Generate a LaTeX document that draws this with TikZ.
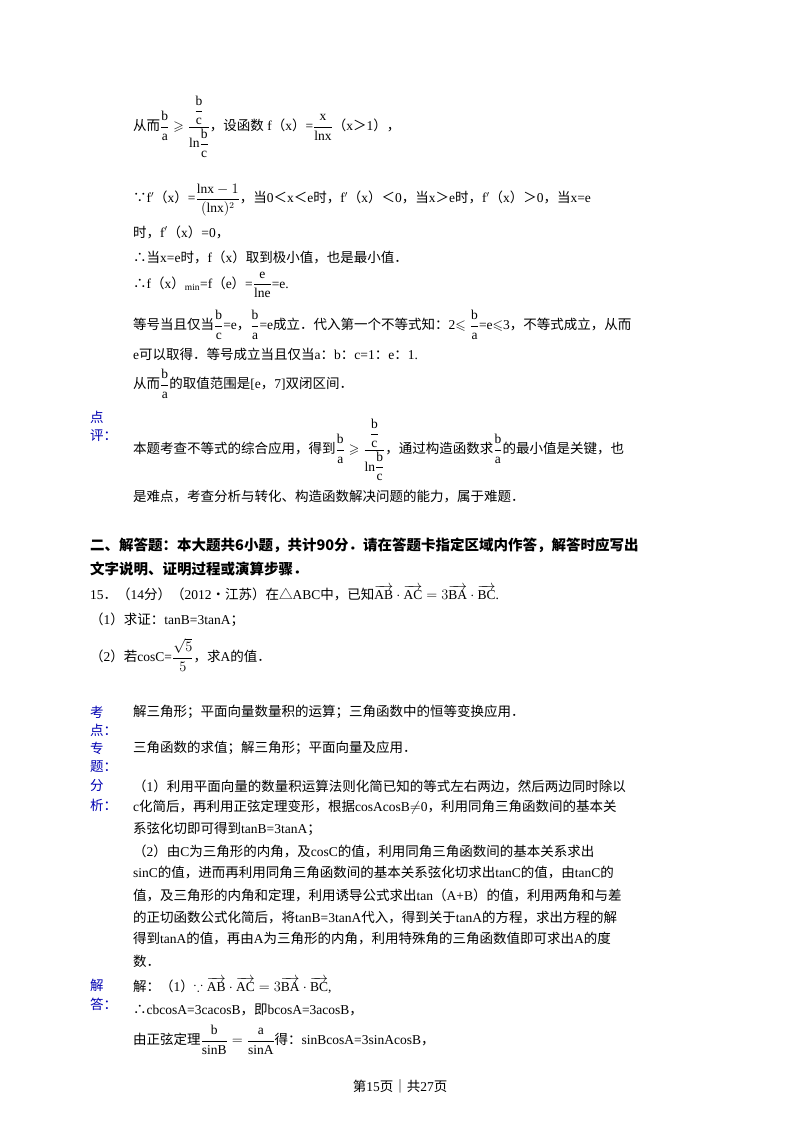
\documentclass[tikz,border=0pt]{standalone}
\usepackage{fontspec}
\usepackage{amsmath,amssymb}
\setmainfont{Liberation Serif}
\newfontfamily\cjk{Noto Sans CJK SC}
\newcommand{\zh}[1]{{\cjk #1}}
\newcommand{\nestfr}{\dfrac{\mathrm{b}}{\mathrm{a}}\geqslant\dfrac{\dfrac{\mathrm{b}}{\mathrm{c}}}{\mathrm{ln}\dfrac{\mathrm{b}}{\mathrm{c}}}}
\begin{document}
\begin{tikzpicture}[x=1pt,y=-1pt,
  tx/.style={anchor=west,inner sep=0pt,font=\fontsize{13.5}{16}\selectfont},
  bl/.style={anchor=west,inner sep=0pt,font=\fontsize{13.5}{16}\selectfont\cjk,text=blue!70!black},
  bd/.style={anchor=west,inner sep=0pt,font=\fontsize{14.5}{17}\selectfont\cjk\bfseries}]
\useasboundingbox[fill=white] (0,0) rectangle (800,1129);
\node[tx] (l1) at (133,127) {\zh{从而}$\nestfr$\zh{，设函数} f\zh{（}x\zh{）}=$\dfrac{\mathrm{x}}{\mathrm{lnx}}$\zh{（}x\zh{＞}1\zh{），}};
\node[tx] (l2) at (133,200) {\zh{∵}f$'$\zh{（}x\zh{）}=$\dfrac{\mathrm{lnx}-1}{(\mathrm{lnx})^{2}}$\zh{，当}0\zh{＜}x\zh{＜}e\zh{时，}f$'$\zh{（}x\zh{）＜}0\zh{，当}x\zh{＞}e\zh{时，}f$'$\zh{（}x\zh{）＞}0\zh{，当}x=e};
\node[tx] (l3) at (133,232) {\zh{时，}f$'$\zh{（}x\zh{）}=0\zh{，}};
\node[tx] (l4) at (133,257) {\zh{∴当}x=e\zh{时，}f\zh{（}x\zh{）取到极小值，也是最小值．}};
\node[tx] (l5) at (133,285) {\zh{∴}f\zh{（}x\zh{）}$_{\min}$=f\zh{（}e\zh{）}=$\dfrac{\mathrm{e}}{\mathrm{lne}}$=e.};
\node[tx] (l6) at (133,325) {\zh{等号当且仅当}$\dfrac{\mathrm{b}}{\mathrm{c}}$=e\zh{，}$\dfrac{\mathrm{b}}{\mathrm{a}}$=e\zh{成立．代入第一个不等式知：}2$\leqslant\dfrac{\mathrm{b}}{\mathrm{a}}$=e$\leqslant$3\zh{，不等式成立，从而}};
\node[tx] (l7) at (133,354) {e\zh{可以取得．等号成立当且仅当}a\zh{：}b\zh{：}c=1\zh{：}e\zh{：}1.};
\node[tx] (l8) at (133,384) {\zh{从而}$\dfrac{\mathrm{b}}{\mathrm{a}}$\zh{的取值范围是}[e\zh{，}7]\zh{双闭区间．}};
\node[bl] (p1) at (90,417) {点};
\node[bl] (p2) at (90,436) {评：};
\node[tx] (l9) at (133,450) {\zh{本题考查不等式的综合应用，得到}$\nestfr$\zh{，通过构造函数求}$\dfrac{\mathrm{b}}{\mathrm{a}}$\zh{的最小值是关键，也}};
\node[tx] (l10) at (133,497) {\zh{是难点，考查分析与转化、构造函数解决问题的能力，属于难题．}};
\node[bd] (h1) at (90,545) {二、解答题：本大题共6小题，共计90分．请在答题卡指定区域内作答，解答时应写出};
\node[bd] (h2) at (90,569) {文字说明、证明过程或演算步骤．};
\node[tx] (q) at (90,593) {15\zh{．（}14\zh{分）（}2012\zh{•江苏）在△}ABC\zh{中，已知}$\overrightarrow{\mathrm{AB}}\cdot\overrightarrow{\mathrm{AC}}=3\overrightarrow{\mathrm{BA}}\cdot\overrightarrow{\mathrm{BC}}$.};
\node[tx] (q1) at (90,620) {\zh{（}1\zh{）求证：}tanB=3tanA\zh{；}};
\node[tx] (q2) at (90,655) {\zh{（}2\zh{）若}cosC=$\dfrac{\sqrt5}{5}$\zh{，求}A\zh{的值．}};
\node[bl] (k1) at (90,712) {考};
\node[bl] (k2) at (90,730) {点：};
\node[tx] (kt) at (133,712) {\zh{解三角形；平面向量数量积的运算；三角函数中的恒等变换应用．}};
\node[bl] (z1) at (90,748) {专};
\node[bl] (z2) at (90,767) {题：};
\node[tx] (zt) at (133,748) {\zh{三角函数的求值；解三角形；平面向量及应用．}};
\node[bl] (f1) at (90,786) {分};
\node[bl] (f2) at (90,805) {析：};
\node[tx] (a1) at (133,786) {\zh{（}1\zh{）利用平面向量的数量积运算法则化简已知的等式左右两边，然后两边同时除以}};
\node[tx] (a2) at (133,807) {c\zh{化简后，再利用正弦定理变形，根据}cosAcosB$\neq$0\zh{，利用同角三角函数间的基本关}};
\node[tx] (a3) at (133,829) {\zh{系弦化切即可得到}tanB=3tanA\zh{；}};
\node[tx] (a4) at (133,851) {\zh{（}2\zh{）由}C\zh{为三角形的内角，及}cosC\zh{的值，利用同角三角函数间的基本关系求出}};
\node[tx] (a5) at (133,873) {sinC\zh{的值，进而再利用同角三角函数间的基本关系弦化切求出}tanC\zh{的值，由}tanC\zh{的}};
\node[tx] (a6) at (133,895) {\zh{值，及三角形的内角和定理，利用诱导公式求出}tan\zh{（}A+B\zh{）的值，利用两角和与差}};
\node[tx] (a7) at (133,917) {\zh{的正切函数公式化简后，将}tanB=3tanA\zh{代入，得到关于}tanA\zh{的方程，求出方程的解}};
\node[tx] (a8) at (133,939) {\zh{得到}tanA\zh{的值，再由}A\zh{为三角形的内角，利用特殊角的三角函数值即可求出}A\zh{的度}};
\node[tx] (a9) at (133,961) {\zh{数．}};
\node[bl] (j1) at (90,985) {解};
\node[bl] (j2) at (90,1004) {答：};
\node[tx] (s1) at (133,985) {\zh{解：（}1\zh{）}$\because\overrightarrow{\mathrm{AB}}\cdot\overrightarrow{\mathrm{AC}}=3\overrightarrow{\mathrm{BA}}\cdot\overrightarrow{\mathrm{BC}}$,};
\node[tx] (s2) at (133,1010) {\zh{∴}cbcosA=3cacosB\zh{，即}bcosA=3acosB\zh{，}};
\node[tx] (s3) at (133,1040) {\zh{由正弦定理}$\dfrac{\mathrm{b}}{\mathrm{sinB}}=\dfrac{\mathrm{a}}{\mathrm{sinA}}$\zh{得：}sinBcosA=3sinAcosB\zh{，}};
\node[tx] (pg) at (400,1086) [anchor=center] {\zh{第}15\zh{页｜共}27\zh{页}};
\end{tikzpicture}
\end{document}
